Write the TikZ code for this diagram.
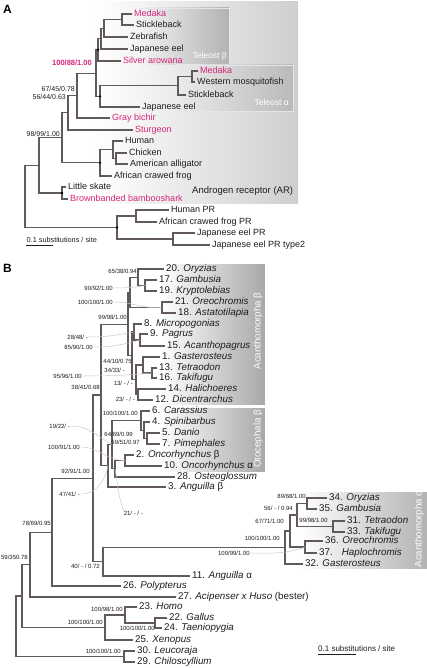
\documentclass[tikz,border=0pt]{standalone}
\usepackage{fontspec}
\setmainfont{Liberation Sans}
\definecolor{brc}{RGB}{98,90,90}
\definecolor{pk}{RGB}{214,36,122}
\definecolor{tx}{RGB}{30,28,28}
\definecolor{ldc}{RGB}{200,200,200}
\tikzset{
 branch/.style={draw=brc, line width=1.1pt},
 leafA/.style={anchor=west, inner xsep=2pt, inner ysep=0pt, text height=6.5pt, text depth=1.5pt, font=\fontsize{9}{10}\selectfont, text=tx},
 leafB/.style={anchor=west, inner xsep=2pt, inner ysep=0pt, text height=7pt, text depth=1.8pt, font=\fontsize{9.8}{11}\selectfont, text=tx},
 bsA/.style={anchor=east, inner sep=0pt, font=\fontsize{7}{8}\selectfont, text=tx},
 bsB/.style={anchor=east, inner sep=0pt, font=\fontsize{6}{7}\selectfont, text=tx},
 lead/.style={draw=ldc, line width=0.5pt},
 ndot/.style={circle, fill=black, inner sep=0pt, minimum size=2.6pt},
 boxlab/.style={text=white, inner sep=0pt, font=\fontsize{8.5}{10}\selectfont},
 rotlab/.style={text=white, inner sep=0pt, rotate=90, font=\fontsize{9.7}{11}\selectfont},
 panel/.style={anchor=west, inner sep=0pt, font=\fontsize{12}{14}\selectfont\bfseries, text=black},
 edge/.style={draw=white!90!black, line width=0.6pt},
}
\begin{document}
\begin{tikzpicture}[x=1pt,y=-1pt]
\useasboundingbox (0,0) rectangle (427,668);
% ---------- backgrounds ----------
\fill[left color=white, right color=black!19] (92,2) rectangle (298,204);
\fill[left color=black!5, right color=black!30] (140,8) rectangle (229,65);
\draw[edge] (140,8) -- (229,8) -- (229,65);
\fill[left color=black!8, right color=black!27] (176,65) rectangle (293,111);
\draw[edge] (176,65) -- (293,65) -- (293,111) -- (176,111);
\fill[left color=white, right color=black!34, draw=white, line width=0.6pt] (160,263) rectangle (265,405);
\fill[left color=white, right color=black!34, draw=white, line width=0.6pt] (160,407) rectangle (265,472);
\fill[left color=white, right color=black!30] (300,492) rectangle (427,568);
\node[boxlab, anchor=east] (tb) at (227,56) {Teleost β};
\node[boxlab, anchor=east] (ta) at (289,102) {Teleost α};
\node[rotlab] (acb) at (258,331) {Acanthomorpha β};
\node[rotlab] (otb) at (258,439) {Otocephala β};
\node[rotlab] (aca) at (419,529) {Acanthomorpha α};
\node[anchor=west, inner sep=0pt, font=\fontsize{9.5}{11}\selectfont, text=tx] (arl) at (192,191) {Androgen receptor (AR)};
\node[panel] (pA) at (3,9) {A};
\node[panel] (pB) at (3,268) {B};
% ---------- tree A ----------
\coordinate (a1) at (122,19.5);
\coordinate (a2) at (104,28.25);
\coordinate (a3) at (101,38.6);
\coordinate (a4) at (98,49.8);
\coordinate (aa1) at (192,76.5);
\coordinate (aa2) at (178,85.75);
\coordinate (aa) at (100,96.4);
\coordinate (aT) at (96,73.1);
\coordinate (aTB) at (77,95.5);
\coordinate (aTBS) at (68,112.8);
\coordinate (aCA) at (116,158.5);
\coordinate (aHCA) at (113,149.75);
\coordinate (aTet) at (100,162.9);
\coordinate (aAF) at (62,137.8);
\coordinate (aSh) at (62,193);
\coordinate (aAR) at (39,165.4);
\coordinate (aHF) at (136,216);
\coordinate (aEel) at (173,239);
\coordinate (aPR) at (117,227.5);
\coordinate (aR) at (25,196.5);
\node[leafA, text=pk] (aMed) at (132,14) {Medaka};
\node[leafA] (aStk) at (134,25) {Stickleback};
\node[leafA] (aZeb) at (128,37) {Zebrafish};
\node[leafA] (aJe) at (128,49) {Japanese eel};
\node[leafA, text=pk] (aSil) at (121,61) {Silver arowana};
\node[leafA, text=pk] (aMedb) at (198,71) {Medaka};
\node[leafA] (aMos) at (195,82) {Western mosquitofish};
\node[leafA] (aStkb) at (186,95) {Stickleback};
\node[leafA] (aJeb) at (140,107) {Japanese eel};
\node[leafA, text=pk] (aBic) at (110,118) {Gray bichir};
\node[leafA, text=pk] (aStu) at (133,130) {Sturgeon};
\node[leafA] (aHum) at (123,141) {Human};
\node[leafA] (aChi) at (127,153) {Chicken};
\node[leafA] (aAll) at (128,164) {American alligator};
\node[leafA] (aFrog) at (112,176) {African crawed frog};
\node[leafA] (aSka) at (66,187) {Little skate};
\node[leafA, text=pk] (aBam) at (68,199) {Brownbanded bambooshark};
\node[leafA] (aHPR) at (169,210) {Human PR};
\node[leafA] (aFPR) at (157,222) {African crawed frog PR};
\node[leafA] (aEPR) at (195,233) {Japanese eel PR};
\node[leafA] (aEPR2) at (210,245) {Japanese eel PR type2};
\draw[branch] (aMed.west) -| (a1) |- (aStk.west);
\draw[branch] (a1) -| (a2) |- (aZeb.west);
\draw[branch] (a2) -| (a3) |- (aJe.west);
\draw[branch] (a3) -| (a4) |- (aSil.west);
\draw[branch] (aMedb.west) -| (aa1) |- (aMos.west);
\draw[branch] (aa1) -| (aa2) |- (aStkb.west);
\draw[branch] (aa2) -| (aa) |- (aJeb.west);
\draw[branch] (a4) -| (aT) |- (aa);
\draw[branch] (aT) -| (aTB) |- (aBic.west);
\draw[branch] (aTB) -| (aTBS) |- (aStu.west);
\draw[branch] (aChi.west) -| (aCA) |- (aAll.west);
\draw[branch] (aHum.west) -| (aHCA) |- (aCA);
\draw[branch] (aHCA) -| (aTet) |- (aFrog.west);
\draw[branch] (aTBS) -| (aAF) |- (aTet);
\draw[branch] (aSka.west) -| (aSh) |- (aBam.west);
\draw[branch] (aAF) -| (aAR) |- (aSh);
\draw[branch] (aHPR.west) -| (aHF) |- (aFPR.west);
\draw[branch] (aEPR.west) -| (aEel) |- (aEPR2.west);
\draw[branch] (aHF) -| (aPR) |- (aEel);
\draw[branch] (aAR) -| (aR) |- (aPR);
\foreach \d in {a4,aa,aTet,aSh,aPR} \node[ndot] at (\d) {};
\node[bsA, text=pk, font=\fontsize{7.5}{9}\selectfont\bfseries] (lA1) at (92,63) {100/88/1.00};
\node[bsA] (lA2) at (75,89) {67/45/0.78};
\node[bsA] (lA3) at (66,97) {56/44/0.63};
\node[bsA] (lA4) at (60,134) {98/99/1.00};
\coordinate (sA1) at (26,245);
\coordinate (sA2) at (53,245);
\draw[draw=tx, line width=0.9pt] (sA1) -- (sA2);
\node[anchor=base west, inner sep=0pt, font=\fontsize{7.3}{9}\selectfont, text=tx] (sAt) at (26.5,242) {0.1 substitutions / site};
% ---------- tree B ----------
\coordinate (bGK) at (145,285.5);
\coordinate (bOGK) at (138,277.25);
\coordinate (bCi) at (162,307.5);
\coordinate (bT1) at (130,292.4);
\coordinate (bPA) at (140,340);
\coordinate (bP) at (134,332);
\coordinate (bTT) at (152,373);
\coordinate (bG1) at (143,365);
\coordinate (bHD) at (138,394.5);
\coordinate (bG3) at (136,379.75);
\coordinate (bQ) at (132,355.9);
\coordinate (bT2) at (128,324.15);
\coordinate (bDP) at (147,438.5);
\coordinate (bSDP) at (144,430.25);
\coordinate (bCy) at (141,420.6);
\coordinate (bOn) at (125,460.5);
\coordinate (bX2) at (115,468.75);
\coordinate (bX1) at (112,444.7);
\coordinate (bX3) at (108,465.8);
\coordinate (bN102) at (101,395);
\coordinate (bA35) at (307,503.5);
\coordinate (bA33) at (333,526.5);
\coordinate (bAA) at (297,515);
\coordinate (bA37) at (305,547);
\coordinate (bAB) at (290,531);
\coordinate (bAC) at (285,547.5);
\coordinate (bN103) at (103,561.75);
\coordinate (bN93) at (93,478.4);
\coordinate (bN52) at (52,532.2);
\coordinate (bN30) at (30,564.6);
\coordinate (bGT) at (155,623);
\coordinate (bHGT) at (125,615);
\coordinate (bN105) at (105,627.5);
\coordinate (bN22) at (22,596);
\coordinate (bSh) at (124,656.5);
\coordinate (bR) at (16,626.25);
\node[leafB] (b20) at (164,269) {20. \textit{Oryzias}};
\node[leafB] (b17) at (157,280) {17. \textit{Gambusia}};
\node[leafB] (b19) at (157,291) {19. \textit{Kryptolebias}};
\node[leafB] (b21) at (173,302) {21. \textit{Oreochromis}};
\node[leafB] (b18) at (176,313) {18. \textit{Astatotilapia}};
\node[leafB] (b8) at (142,324) {8. \textit{Micropogonias}};
\node[leafB] (b9) at (148,334) {9. \textit{Pagrus}};
\node[leafB] (b15) at (165,346) {15. \textit{Acanthopagrus}};
\node[leafB] (b1) at (160,357) {1. \textit{Gasterosteus}};
\node[leafB] (b13) at (157,368) {13. \textit{Tetraodon}};
\node[leafB] (b16) at (157,378) {16. \textit{Takifugu}};
\node[leafB] (b14) at (166,389) {14. \textit{Halichoeres}};
\node[leafB] (b12) at (153,400) {12. \textit{Dicentrarchus}};
\node[leafB] (b6) at (150,411) {6. \textit{Carassius}};
\node[leafB] (b4) at (150,422) {4. \textit{Spinibarbus}};
\node[leafB] (b5) at (160,433) {5. \textit{Danio}};
\node[leafB] (b7) at (160,444) {7. \textit{Pimephales}};
\node[leafB] (b2) at (134,455) {2. \textit{Oncorhynchus} β};
\node[leafB] (b10) at (162,466) {10. \textit{Oncorhynchus} α};
\node[leafB] (b28) at (175,477) {28. \textit{Osteoglossum}};
\node[leafB] (b3) at (166,487) {3. \textit{Anguilla} β};
\node[leafB] (b34) at (327,498) {34. \textit{Oryzias}};
\node[leafB] (b35) at (317,509) {35. \textit{Gambusia}};
\node[leafB] (b31) at (345,521) {31. \textit{Tetraodon}};
\node[leafB] (b33) at (345,532) {33. \textit{Takifugu}};
\node[leafB] (b36) at (323,541) {36. \textit{Oreochromis}};
\node[leafB] (b37) at (317,553) {37. \ \ \textit{Haplochromis}};
\node[leafB] (b32) at (303,564) {32. \textit{Gasterosteus}};
\node[leafB] (b11) at (190,576) {11. \textit{Anguilla} α};
\node[leafB] (b26) at (121,586) {26. \textit{Polypterus}};
\node[leafB] (b27) at (176,597) {27. \textit{Acipenser x Huso} (bester)};
\node[leafB] (b23) at (137,607) {23. \textit{Homo}};
\node[leafB] (b22) at (167,618) {22. \textit{Gallus}};
\node[leafB] (b24) at (162,628) {24. \textit{Taeniopygia}};
\node[leafB] (b25) at (133,640) {25. \textit{Xenopus}};
\node[leafB] (b30) at (135,651) {30. \textit{Leucoraja}};
\node[leafB] (b29) at (135,662) {29. \textit{Chiloscyllium}};
% acanthomorpha beta
\draw[branch] (b17.west) -| (bGK) |- (b19.west);
\draw[branch] (b20.west) -| (bOGK) |- (bGK);
\draw[branch] (b21.west) -| (bCi) |- (b18.west);
\draw[branch] (bOGK) -| (bT1) |- (bCi);
\draw[branch] (b9.west) -| (bPA) |- (b15.west);
\draw[branch] (b8.west) -| (bP) |- (bPA);
\draw[branch] (b13.west) -| (bTT) |- (b16.west);
\draw[branch] (b1.west) -| (bG1) |- (bTT);
\draw[branch] (b14.west) -| (bHD) |- (b12.west);
\draw[branch] (bG1) -| (bG3) |- (bHD);
\draw[branch] (bP) -| (bQ) |- (bG3);
\draw[branch] (bT1) -| (bT2) |- (bQ);
% otocephala etc
\draw[branch] (b5.west) -| (bDP) |- (b7.west);
\draw[branch] (b4.west) -| (bSDP) |- (bDP);
\draw[branch] (b6.west) -| (bCy) |- (bSDP);
\draw[branch] (b2.west) -| (bOn) |- (b10.west);
\draw[branch] (bOn) -| (bX2) |- (b28.west);
\draw[branch] (bCy) -| (bX1) |- (bX2);
\draw[branch] (bX1) -| (bX3) |- (b3.west);
\draw[branch] (bT2) -| (bN102) |- (bX3);
% acanthomorpha alpha
\draw[branch] (b34.west) -| (bA35) |- (b35.west);
\draw[branch] (b31.west) -| (bA33) |- (b33.west);
\draw[branch] (bA35) -| (bAA) |- (bA33);
\draw[branch] (b36.west) -| (bA37) |- (b37.west);
\draw[branch] (bAA) -| (bAB) |- (bA37);
\draw[branch] (bAB) -| (bAC) |- (b32.west);
\draw[branch] (bAC) -| (bN103) |- (b11.west);
\draw[branch] (bN102) -| (bN93) |- (bN103);
\draw[branch] (bN93) -| (bN52) |- (b26.west);
\draw[branch] (bN52) -| (bN30) |- (b27.west);
% tetrapods, sharks
\draw[branch] (b22.west) -| (bGT) |- (b24.west);
\draw[branch] (b23.west) -| (bHGT) |- (bGT);
\draw[branch] (bHGT) -| (bN105) |- (b25.west);
\draw[branch] (bN30) -| (bN22) |- (bN105);
\draw[branch] (b30.west) -| (bSh) |- (b29.west);
\draw[branch] (bN22) -| (bR) |- (bSh);
% support labels B
\node[bsB] (l1) at (137,271) {65/38/0.94};
\node[bsB] (l2) at (113,288) {90/92/1.00};
\node[bsB] (l3) at (113,302) {100/100/1.00};
\node[bsB] (l4) at (127,317) {99/98/1.00};
\node[bsB] (l5) at (88,337) {28/48/ -};
\node[bsB] (l6) at (93,347) {85/90/1.00};
\node[bsB] (l7) at (132,361) {44/10/0.75};
\node[bsB] (l8) at (125,370) {34/33/ -};
\node[bsB] (l9) at (82,376) {95/96/1.00};
\node[bsB] (l10) at (100,387) {38/41/0.68};
\node[bsB] (l11) at (133,383) {13/ - / -};
\node[bsB] (l12) at (135,399) {23/ - / -};
\node[bsB] (l13) at (138,413) {100/100/1.00};
\node[bsB] (l14) at (70,426) {19/22/ -};
\node[bsB] (l15) at (133,434) {64/69/0.99};
\node[bsB] (l16) at (140,442) {59/51/0.97};
\node[bsB] (l17) at (80,447) {100/91/1.00};
\node[bsB] (l18) at (90,471) {92/91/1.00};
\node[bsB] (l19) at (80,494) {47/41/ -};
\node[bsB] (l20) at (143,513) {21/ - / -};
\node[bsB] (l21) at (51,523) {78/69/0.95};
\node[bsB] (l22) at (28,557) {59/350.78};
\node[bsB] (l23) at (100,566) {40/ - / 0.72};
\node[bsB] (l24) at (123,609) {100/98/1.00};
\node[bsB] (l25) at (103,622) {100/100/1.00};
\node[bsB] (l26) at (155,628) {100/100/1.00};
\node[bsB] (l27) at (121,651) {100/100/1.00};
\node[bsB] (l28) at (306,496) {89/68/1.00};
\node[bsB] (l29) at (293,508) {56/ - / 0.94};
\node[bsB] (l30) at (284,521) {67/71/1.00};
\node[bsB] (l31) at (328,520) {99/98/1.00};
\node[bsB] (l32) at (280,538) {100/100/1.00};
\node[bsB] (l33) at (250,553) {100/99/1.00};
% leaders
\draw[lead] (l2.east) ++(1,0) to[out=0,in=190] (bGK);
\draw[lead] (l3.east) ++(1,0) to[out=0,in=185] (bCi);
\draw[lead] (l5.east) ++(1,0) to[out=0,in=190] (bP);
\draw[lead] (l6.east) ++(1,0) to[out=0,in=195] (bPA);
\draw[lead] (l9.east) ++(1,0) to[out=0,in=185] (bTT);
\draw[lead] (l14.east) ++(1,0) to[out=0,in=150] (bX1);
\draw[lead] (l17.east) ++(1,0) to[out=0,in=180] (bOn);
\draw[lead] (l19.east) ++(1,0) to[out=0,in=-100] (bX3);
\draw[lead] (l20.north west) to[out=110,in=-80] (bX2);
\draw[lead] (l33.east) ++(1,0) to[out=0,in=200] (bA37);
% scale bar B
\coordinate (sB1) at (318,654);
\coordinate (sB2) at (356,654);
\draw[draw=tx, line width=0.9pt] (sB1) -- (sB2);
\node[anchor=base west, inner sep=0pt, font=\fontsize{8}{9}\selectfont, text=tx] (sBt) at (318,651.5) {0.1 substitutions / site};
\end{tikzpicture}
\end{document}
